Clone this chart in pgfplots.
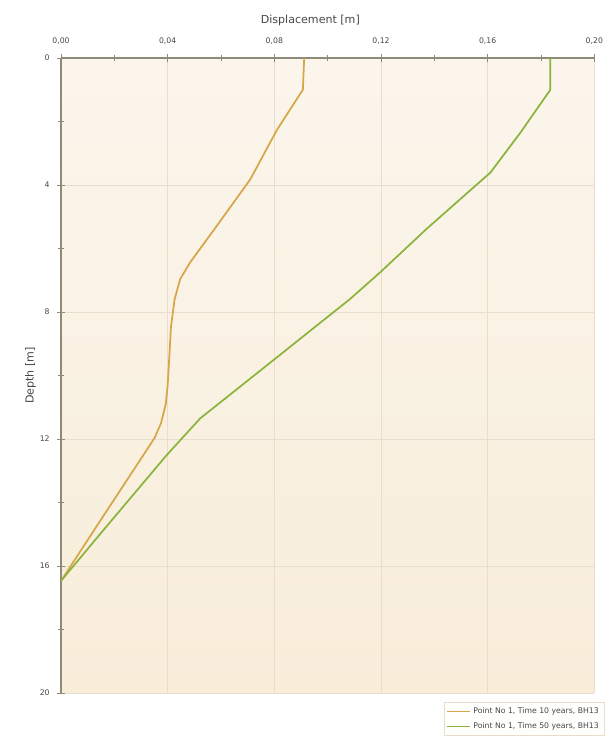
\documentclass[border=0pt]{standalone}
\usepackage{pgfplots}
\pgfplotsset{compat=1.18}
\usepackage{fontspec}
\setmainfont{DejaVu Sans}
\definecolor{lineA}{HTML}{D6A648}
\definecolor{lineB}{HTML}{8BB43C}
\definecolor{bgtop}{HTML}{FBF5EC}
\definecolor{bgbot}{HTML}{F8EDD9}
\definecolor{gridc}{HTML}{E8DECA}
\definecolor{axc}{HTML}{8E8A78}
\definecolor{txt}{HTML}{474747}
\begin{document}
\begin{tikzpicture}
\path[use as bounding box] (-45.75pt,-42pt) rectangle (411.25pt,519.75pt);
\begin{axis}[
  scale only axis,
  width=400pt, height=476.25pt,
  xmin=0, xmax=0.2, ymin=0, ymax=20,
  y dir=reverse,
  axis x line*=top,
  axis y line*=left,
  axis line style={axc, line width=0.8pt},
  xtick={0,0.04,0.08,0.12,0.16,0.2},
  ytick={0,4,8,12,16,20},
  minor x tick num=1, minor y tick num=1,
  tick align=center,
  major tick length=6pt, minor tick length=4pt,
  every tick/.style={axc, line width=0.7pt},
  grid=major,
  major grid style={gridc, line width=0.7pt},
  axis background/.style={top color=bgtop, bottom color=bgbot},
  /pgf/number format/assume math mode=true,
  xticklabel style={font=\fontsize{5.8}{6.5}\selectfont, text=txt, /pgf/number format/fixed, /pgf/number format/fixed zerofill, /pgf/number format/precision=2, /pgf/number format/use comma, yshift=4pt},
  yticklabel style={font=\fontsize{5.8}{6.5}\selectfont, text=txt, xshift=-2pt},
  xtick pos=upper,
  xticklabel pos=upper,
  xlabel={Displacement [m]},
  ylabel={Depth [m]},
  label style={font=\fontsize{8.3}{10}\selectfont, text=txt},
  xlabel style={xshift=-13pt, yshift=2pt},
  ylabel style={yshift=-4pt},
  legend style={at={(1,0)}, anchor=north east, xshift=7.5pt, yshift=-7pt,
    font=\fontsize{5.8}{6.5}\selectfont, text=txt, draw=gridc, fill=white!97!bgtop,
    row sep=1pt, inner xsep=2pt, inner ysep=2pt},
  legend cell align=left,
  legend image post style={line width=0.8pt},
  every axis plot/.append style={line width=1.3pt},
]
\addplot[lineA] coordinates {
(0.0912,0) (0.0907,1) (0.0810,2.26) (0.0710,3.82) (0.0584,5.29) (0.0484,6.44)
(0.0447,6.96) (0.0426,7.6) (0.0412,8.5) (0.0408,9.15) (0.0400,10.3) (0.0393,10.9)
(0.0375,11.5) (0.0352,11.95) (0.0325,12.3) (0.0146,14.59) (0,16.47)};
\addlegendentry{Point No 1, Time 10 years, BH13}
\addplot[lineB] coordinates {
(0.1835,0) (0.1835,1) (0.1722,2.36) (0.1610,3.61) (0.1510,4.35) (0.1370,5.39)
(0.1197,6.75) (0.1084,7.59) (0.0772,9.68) (0.0522,11.35) (0.0397,12.5)
(0.0146,15.0) (0,16.47)};
\addlegendentry{Point No 1, Time 50 years, BH13}
\end{axis}
\end{tikzpicture}
\end{document}
